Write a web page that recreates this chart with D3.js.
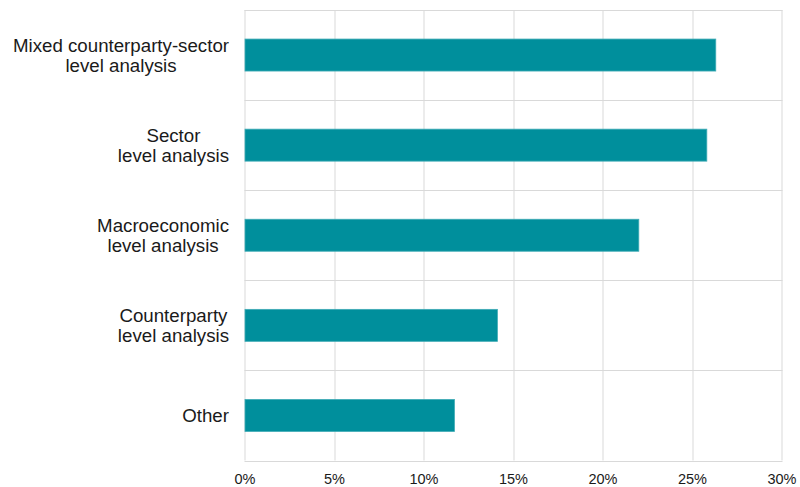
<!DOCTYPE html>
<html>
<head>
<meta charset="utf-8">
<script src="https://cdn.jsdelivr.net/npm/d3@7"></script>
<style>
  html, body { margin: 0; padding: 0; background: #fff; }
  svg { display: block; font-family: "Liberation Sans", Arial, sans-serif; }
</style>
</head>
<body>
<svg id="chart" width="800" height="487"></svg>
<script>
// Categories (top to bottom), each label split into display lines
const categories = [
  "Mixed counterparty-sector level analysis",
  "Sector level analysis",
  "Macroeconomic level analysis",
  "Counterparty level analysis",
  "Other"
];
const labelLines = [
  ["Mixed counterparty-sector", "level analysis"],
  ["Sector", "level analysis"],
  ["Macroeconomic", "level analysis"],
  ["Counterparty", "level analysis"],
  ["Other"]
];
// Share of respondents (%)
const values = [26.3, 25.8, 22.0, 14.1, 11.7];
// X axis ticks (%)
const xTicks = [0, 5, 10, 15, 20, 25, 30];

const svg = d3.select("#chart");
const margin = { top: 10, right: 18.5, bottom: 26.5, left: 244.5 };
const width = 800 - margin.left - margin.right;
const height = 487 - margin.top - margin.bottom;

const g = svg.append("g").attr("transform", `translate(${margin.left},${margin.top})`);

const x = d3.scaleLinear().domain([0, 30]).range([0, width]);
const y = d3.scaleBand().domain(categories).range([0, height]).paddingInner(0.645).paddingOuter(0.3225);
const band = d3.scaleBand().domain(categories).range([0, height]);

const gridColor = "#d9d9d9";

// Vertical gridlines at each tick
g.append("g").selectAll("line").data(xTicks).join("line")
  .attr("x1", d => Math.round(x(d)) + 0.5).attr("x2", d => Math.round(x(d)) + 0.5)
  .attr("y1", 0).attr("y2", height)
  .attr("stroke", gridColor).attr("stroke-width", 1);

// Horizontal gridlines at category band boundaries
const hLines = categories.map(c => band(c)).concat([height]);
g.append("g").selectAll("line").data(hLines).join("line")
  .attr("x1", 0).attr("x2", x(30) + 1)
  .attr("y1", d => Math.round(d) + 0.5).attr("y2", d => Math.round(d) + 0.5)
  .attr("stroke", gridColor).attr("stroke-width", 1);

// Bars
g.append("g").selectAll("rect").data(categories).join("rect")
  .attr("x", x(0) + 0.5)
  .attr("y", c => y(c))
  .attr("width", (c, i) => x(values[i]) - x(0))
  .attr("height", y.bandwidth())
  .attr("fill", "#008f9c")
  .attr("stroke", "#3fabb5")
  .attr("stroke-width", 0.8);

// X axis tick labels
const xAxis = d3.axisBottom(x).tickValues(xTicks).tickFormat(d => d + "%").tickSize(0).tickPadding(0);
const ax = g.append("g").attr("transform", `translate(0,${height})`).call(xAxis);
ax.select(".domain").remove();
ax.selectAll("text")
  .attr("y", 0).attr("dy", null)
  .attr("transform", "translate(0,23.5)")
  .attr("font-size", 14.5)
  .attr("font-family", "Liberation Sans, Arial, sans-serif")
  .attr("fill", "#1a1a1a");

// Category labels: lines centred on each other, block right-aligned to the axis
const lineH = 20.5;
const labelRight = -15.5;
const lab = g.append("g").attr("font-size", 18.7).attr("fill", "#1a1a1a");
categories.forEach((c, i) => {
  const lines = labelLines[i];
  const t = lab.append("text").attr("text-anchor", "middle");
  const cy = band(c) + band.bandwidth() / 2;
  const y0 = cy - (lines.length - 1) * lineH / 2 + 6.7;
  lines.forEach((ln, j) => {
    t.append("tspan").attr("y", y0 + j * lineH).text(ln);
  });
  // measure widest line, then centre the block so its right edge sits at labelRight
  let maxW = 0;
  t.selectAll("tspan").each(function () { maxW = Math.max(maxW, this.getComputedTextLength()); });
  t.selectAll("tspan").attr("x", labelRight - maxW / 2);
});
</script>
</body>
</html>
